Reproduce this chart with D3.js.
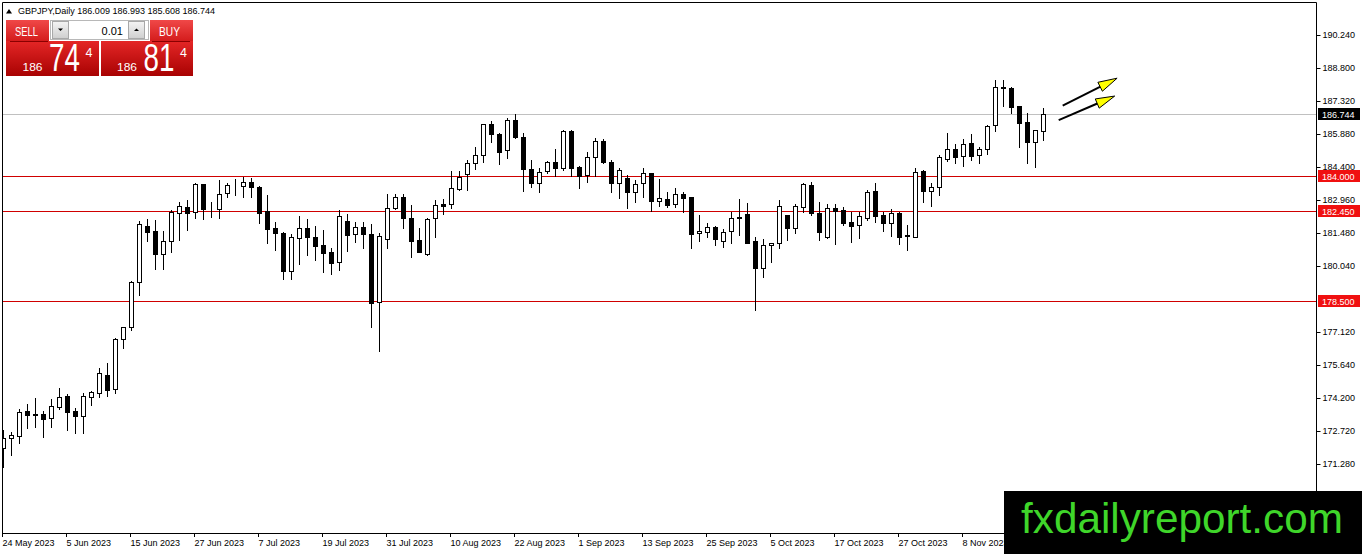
<!DOCTYPE html>
<html>
<head>
<meta charset="utf-8">
<script src="https://cdn.jsdelivr.net/npm/d3@7"></script>
<style>
  body { margin: 0; background: #fff; }
  svg { display: block; font-family: "Liberation Sans", Arial, sans-serif; }
</style>
</head>
<body>
<svg id="chart" width="1362" height="554"></svg>
<script>
// GBPJPY daily bars, 24 May 2023 .. 22 Nov 2023
var opens = [
  171.97, 172.42, 172.53, 173.64, 173.46, 173.48, 173.30, 173.79, 174.28, 173.64,
  173.41, 174.25, 174.43, 175.21, 174.58, 176.79, 177.32, 179.34, 181.80, 181.58,
  180.55, 181.14, 182.36, 182.62, 182.40, 183.64, 182.54, 182.54, 183.24, 183.60,
  183.58, 183.73, 183.54, 182.46, 181.70, 181.49, 179.82, 181.25, 181.70, 181.30,
  180.96, 180.65, 180.19, 182.02, 181.43, 181.74, 181.43, 178.43, 181.21, 182.58,
  183.09, 182.14, 181.18, 180.55, 182.14, 182.78, 182.76, 183.43, 184.08, 184.57,
  184.94, 186.31, 185.85, 185.16, 186.48, 185.72, 184.32, 183.69, 184.23, 184.61,
  184.37, 186.00, 184.39, 184.05, 184.86, 185.55, 184.61, 183.69, 183.91, 183.31,
  183.69, 184.13, 182.92, 182.99, 182.76, 183.21, 183.08, 181.48, 181.55, 181.74,
  181.15, 181.58, 182.21, 182.33, 181.14, 179.93, 180.95, 181.03, 182.28, 181.70,
  182.65, 183.61, 182.39, 181.33, 182.58, 182.51, 181.96, 181.83, 182.17, 183.35,
  182.28, 181.92, 182.36, 181.38, 181.33, 184.23, 183.36, 183.51, 184.75, 185.19,
  184.89, 185.45, 184.92, 185.19, 186.25, 187.94, 187.88, 187.10, 186.38, 185.50,
  186.009
];
var highs = [
  172.78, 172.71, 173.70, 173.92, 174.21, 173.64, 174.14, 174.63, 174.36, 173.76,
  174.40, 174.52, 175.52, 175.76, 176.83, 177.35, 179.37, 182.03, 182.09, 182.06,
  181.58, 182.51, 182.87, 182.95, 183.71, 183.65, 182.85, 183.83, 183.71, 183.86,
  183.96, 183.92, 183.57, 183.17, 181.99, 181.55, 181.43, 182.24, 182.09, 181.80,
  181.62, 180.81, 182.51, 182.33, 181.96, 181.96, 181.89, 181.48, 183.20, 183.20,
  183.20, 182.73, 181.70, 182.14, 182.95, 182.98, 184.23, 184.23, 184.72, 185.28,
  186.31, 186.45, 185.90, 186.58, 186.73, 185.90, 184.72, 184.37, 184.67, 185.20,
  186.04, 186.02, 184.46, 185.08, 185.70, 185.64, 184.72, 184.37, 184.05, 183.83,
  184.37, 184.15, 183.88, 183.31, 183.46, 183.29, 183.09, 182.28, 181.92, 181.80,
  181.65, 182.43, 182.99, 182.80, 181.33, 181.21, 181.06, 182.95, 182.30, 182.76,
  183.69, 183.76, 182.87, 182.76, 182.76, 182.65, 182.43, 182.43, 183.39, 183.69,
  182.43, 182.54, 182.43, 181.84, 184.35, 184.27, 183.69, 184.94, 185.90, 185.42,
  185.63, 185.85, 185.30, 186.26, 188.25, 188.25, 187.95, 187.12, 186.78, 186.04,
  186.993
];
var lows = [
  171.16, 171.68, 172.19, 172.88, 172.93, 172.49, 172.93, 173.70, 172.78, 172.64,
  172.64, 173.87, 174.25, 174.28, 174.40, 176.39, 177.20, 178.75, 181.15, 179.88,
  179.88, 180.66, 181.18, 181.62, 182.17, 182.09, 182.18, 182.14, 183.07, 183.17,
  183.09, 183.09, 181.94, 181.06, 180.74, 179.44, 179.44, 180.12, 180.52, 180.30,
  179.78, 179.68, 179.85, 180.71, 181.10, 180.84, 177.35, 176.27, 180.81, 182.55,
  181.70, 180.41, 180.64, 180.53, 181.33, 182.32, 182.61, 183.40, 183.39, 184.30,
  184.64, 185.52, 184.53, 184.79, 185.70, 183.35, 183.54, 183.31, 184.13, 184.01,
  184.27, 184.01, 183.49, 183.76, 184.01, 184.58, 183.31, 183.02, 182.61, 182.87,
  183.09, 182.46, 182.70, 182.65, 182.65, 182.40, 180.81, 181.15, 181.33, 180.96,
  180.86, 181.03, 181.40, 181.04, 178.09, 179.53, 180.22, 180.81, 181.18, 181.50,
  182.43, 182.28, 181.18, 181.25, 181.00, 181.84, 181.10, 181.25, 182.06, 181.99,
  181.59, 181.37, 181.00, 180.74, 181.30, 182.87, 182.70, 183.17, 184.68, 184.60,
  184.46, 184.72, 184.60, 184.97, 186.01, 187.10, 186.78, 185.28, 184.57, 184.42,
  185.608
];
var closes = [
  172.42, 172.56, 173.57, 173.45, 173.48, 173.28, 173.83, 174.23, 173.59, 173.41,
  174.28, 174.46, 175.31, 174.55, 176.79, 177.32, 179.31, 181.87, 181.55, 180.55,
  181.14, 182.40, 182.68, 182.36, 183.64, 182.54, 182.56, 183.20, 183.61, 183.62,
  183.73, 183.51, 182.39, 181.67, 181.48, 179.82, 181.30, 181.70, 181.30, 180.93,
  180.62, 180.18, 182.24, 181.40, 181.77, 181.43, 178.38, 181.36, 182.58, 183.07,
  182.14, 181.15, 180.66, 182.09, 182.73, 182.70, 183.46, 183.98, 184.57, 184.94,
  186.29, 185.85, 185.08, 186.48, 185.72, 184.30, 183.69, 184.17, 184.61, 184.37,
  186.00, 184.37, 184.01, 184.86, 185.55, 184.61, 183.69, 184.27, 183.31, 183.65,
  184.13, 182.90, 183.02, 182.73, 183.20, 183.05, 181.43, 181.58, 181.74, 181.21,
  181.55, 182.14, 182.14, 181.06, 179.93, 180.96, 181.03, 182.68, 181.70, 182.68,
  183.65, 182.36, 181.55, 182.58, 182.47, 181.94, 181.80, 182.24, 183.31, 182.25,
  181.92, 182.36, 181.33, 181.35, 184.20, 183.36, 183.51, 184.83, 185.19, 184.86,
  185.41, 184.89, 185.19, 186.23, 187.93, 187.90, 187.04, 186.36, 185.50, 186.03,
  186.744
];

var firstDay = '2023-05-24';
var xTickLabels = ['24 May 2023', '5 Jun 2023', '15 Jun 2023', '27 Jun 2023', '7 Jul 2023',
  '19 Jul 2023', '31 Jul 2023', '10 Aug 2023', '22 Aug 2023', '1 Sep 2023', '13 Sep 2023',
  '25 Sep 2023', '5 Oct 2023', '17 Oct 2023', '27 Oct 2023', '8 Nov 2023'];
var yTickValues = [190.240, 188.800, 187.320, 185.880, 184.400, 182.960, 181.480, 180.040,
  177.120, 175.640, 174.200, 172.720, 171.280];
var levels = [184.000, 182.450, 178.500];
var lastPrice = 186.744;
var bid = { big: '186', pips: '74', frac: '4' };
var ask = { big: '186', pips: '81', frac: '4' };
var lotSize = '0.01';
// hand-drawn arrows, in bar index / price units
var arrows = [
  { i0: 132.4, p0: 187.115, i1: 139.2, p1: 188.33 },
  { i0: 131.9, p0: 186.48, i1: 138.9, p1: 187.54 }
];

var svg = d3.select('#chart');
var plotL = 3, plotR = 1316, plotT = 3, plotB = 533;
var n = opens.length;

// weekday bars only
var parseDay = d3.timeParse('%Y-%m-%d');
var days = [];
var d0 = parseDay(firstDay);
while (days.length < n) {
  if (d0.getDay() !== 0 && d0.getDay() !== 6) days.push(d0);
  d0 = d3.timeDay.offset(d0, 1);
}
var fmtDay = d3.timeFormat('%-d %b %Y');

var x = d3.scaleBand().domain(d3.range(n)).range([-0.5, -0.5 + 8 * n]);
var cx = function (i) { return x(i) + x.step() / 2; };
var xi = d3.scaleLinear().domain([0, 1]).range([cx(0), cx(1)]);
var y = d3.scaleLinear().domain([168.226, 191.654]).range([plotB, plotT]);
var py = function (p) { return Math.round(y(p)) + 0.5; };

var defs = svg.append('defs');
defs.append('clipPath').attr('id', 'plot')
  .append('rect').attr('x', plotL).attr('y', plotT)
  .attr('width', plotR - plotL).attr('height', plotB - plotT);

function grad(id, c1, c2) {
  var lg = defs.append('linearGradient').attr('id', id)
    .attr('x1', 0).attr('y1', 0).attr('x2', 0).attr('y2', 1);
  lg.append('stop').attr('offset', '0%').attr('stop-color', c1);
  lg.append('stop').attr('offset', '100%').attr('stop-color', c2);
}
grad('tabGrad', '#f04848', '#d41c1c');
grad('boxGrad', '#e42626', '#a80202');
grad('spinGrad', '#f4f4f4', '#cfcfcf');

// level lines
var plot = svg.append('g').attr('clip-path', 'url(#plot)');
plot.append('line')
  .attr('x1', plotL).attr('x2', plotR)
  .attr('y1', py(lastPrice)).attr('y2', py(lastPrice))
  .attr('stroke', '#c0c0c0');
plot.selectAll('line.level').data(levels).join('line')
  .attr('class', 'level')
  .attr('x1', plotL).attr('x2', plotR)
  .attr('y1', py).attr('y2', py)
  .attr('stroke', '#d00000');

// candles
var candles = d3.range(n).map(function (i) {
  return { i: i, o: opens[i], h: highs[i], l: lows[i], c: closes[i] };
});
plot.selectAll('line.wick').data(candles).join('line')
  .attr('class', 'wick')
  .attr('x1', function (d) { return cx(d.i); })
  .attr('x2', function (d) { return cx(d.i); })
  .attr('y1', function (d) { return Math.round(y(d.h)); })
  .attr('y2', function (d) { return Math.round(y(d.l)) + 1; })
  .attr('stroke', '#000');
plot.selectAll('rect.body').data(candles).join('rect')
  .attr('class', 'body')
  .attr('x', function (d) { return cx(d.i) - 2; })
  .attr('width', 4)
  .attr('y', function (d) { return py(Math.max(d.o, d.c)); })
  .attr('height', function (d) { return Math.round(y(Math.min(d.o, d.c))) - Math.round(y(Math.max(d.o, d.c))); })
  .attr('fill', function (d) { return d.c >= d.o ? '#fff' : '#000'; })
  .attr('stroke', '#000');

// frame
var frame = svg.append('g').attr('stroke', '#000');
frame.append('line').attr('x1', 2.5).attr('x2', 2.5).attr('y1', 2.5).attr('y2', plotB + 0.5);
frame.append('line').attr('x1', 2.5).attr('x2', plotR + 0.5).attr('y1', 2.5).attr('y2', 2.5);
frame.append('line').attr('x1', plotR + 0.5).attr('x2', plotR + 0.5).attr('y1', 2.5).attr('y2', plotB + 0.5);
frame.append('line').attr('x1', 2.5).attr('x2', plotR + 0.5).attr('y1', plotB + 0.5).attr('y2', plotB + 0.5);

// price axis
var yAxis = svg.append('g')
  .attr('transform', 'translate(' + (plotR + 0.5) + ',0)')
  .call(d3.axisRight(y).tickValues(yTickValues).tickFormat(d3.format('.3f')).tickSize(4).tickPadding(2));
yAxis.select('.domain').remove();
yAxis.selectAll('.tick line').attr('transform', 'translate(0,0.5)');
yAxis.selectAll('text').attr('font-family', '"Liberation Sans", Arial, sans-serif')
  .attr('font-size', 9).attr('fill', '#000');
yAxis.selectAll('.tick').attr('transform', function (d) { return 'translate(0,' + Math.round(y(d)) + ')'; });

// price tags
var tags = levels.map(function (v) { return { v: v, bg: '#f01010' }; })
  .concat([{ v: lastPrice, bg: '#000' }]);
var tag = svg.selectAll('g.tag').data(tags).join('g').attr('class', 'tag')
  .attr('transform', function (d) { return 'translate(1318,' + Math.round(y(d.v)) + ')'; });
tag.append('rect').attr('x', 0).attr('y', -6).attr('width', 42).attr('height', 12)
  .attr('fill', function (d) { return d.bg; });
tag.append('text').attr('x', 4).attr('y', 3.5).attr('font-size', 9).attr('fill', '#fff')
  .text(function (d) { return d3.format('.3f')(d.v); });

// time axis
var xTicks = d3.range(n).filter(function (i) { return xTickLabels.indexOf(fmtDay(days[i])) >= 0; });
var xt = svg.selectAll('g.xtick').data(xTicks).join('g').attr('class', 'xtick')
  .attr('transform', function (i) { return 'translate(' + cx(i) + ',0)'; });
xt.append('line').attr('x1', -1).attr('x2', -1).attr('y1', plotB).attr('y2', plotB + 4).attr('stroke', '#000');
xt.append('text').attr('x', -1).attr('y', 546).attr('font-size', 9).attr('fill', '#000')
  .text(function (i) { return fmtDay(days[i]); });

// title
svg.append('path').attr('d', 'M6,13.5 L12,13.5 L9,9 Z').attr('fill', '#000');
svg.append('text').attr('x', 18).attr('y', 14).attr('font-size', 9).attr('fill', '#000')
  .text('GBPJPY,Daily ' + [opens[n - 1], highs[n - 1], lows[n - 1], closes[n - 1]].map(d3.format('.3f')).join(' '));

// arrows
var ag = svg.append('g');
arrows.forEach(function (a) {
  var x0 = xi(a.i0), y0 = y(a.p0), x1 = xi(a.i1), y1 = y(a.p1);
  var dx = x1 - x0, dy = y1 - y0, len = Math.sqrt(dx * dx + dy * dy);
  var ux = dx / len, uy = dy / len, hl = 19, hw = 5;
  var bx = x1 - ux * hl, by = y1 - uy * hl;
  ag.append('line').attr('x1', x0).attr('y1', y0).attr('x2', bx + ux * 2).attr('y2', by + uy * 2)
    .attr('stroke', '#000').attr('stroke-width', 2);
  ag.append('path')
    .attr('d', 'M' + x1 + ',' + y1 + ' L' + (bx - uy * hw) + ',' + (by + ux * hw) +
      ' L' + (bx + uy * hw) + ',' + (by - ux * hw) + ' Z')
    .attr('fill', '#ffff00').attr('stroke', '#000').attr('stroke-width', 1);
});

// one-click trading panel
var panel = svg.append('g');
panel.append('rect').attr('x', 6).attr('y', 20).attr('width', 43).attr('height', 21).attr('fill', 'url(#tabGrad)');
panel.append('rect').attr('x', 150).attr('y', 20).attr('width', 43).attr('height', 21).attr('fill', 'url(#tabGrad)');
panel.append('rect').attr('x', 6).attr('y', 41).attr('width', 93).attr('height', 35).attr('fill', 'url(#boxGrad)');
panel.append('rect').attr('x', 101).attr('y', 41).attr('width', 92).attr('height', 35).attr('fill', 'url(#boxGrad)');
panel.append('line').attr('x1', 10).attr('x2', 48).attr('y1', 41.5).attr('y2', 41.5).attr('stroke', '#8a0000');
panel.append('line').attr('x1', 152).attr('x2', 190).attr('y1', 41.5).attr('y2', 41.5).attr('stroke', '#8a0000');
panel.append('rect').attr('x', 50.5).attr('y', 20.5).attr('width', 98).attr('height', 19)
  .attr('fill', '#fff').attr('stroke', '#b8b8b8');
panel.append('rect').attr('x', 52.5).attr('y', 21.5).attr('width', 16).attr('height', 17)
  .attr('fill', 'url(#spinGrad)').attr('stroke', '#a8a8a8');
panel.append('rect').attr('x', 128.5).attr('y', 21.5).attr('width', 16).attr('height', 17)
  .attr('fill', 'url(#spinGrad)').attr('stroke', '#a8a8a8');
panel.append('path').attr('d', 'M58,28.5 L63,28.5 L60.5,31 Z').attr('fill', '#000');
panel.append('path').attr('d', 'M134,31 L139,31 L136.5,28.5 Z').attr('fill', '#000');
panel.append('text').attr('x', 123).attr('y', 35).attr('text-anchor', 'end')
  .attr('font-size', 11).attr('fill', '#000').text(lotSize);
panel.append('text').attr('x', 15).attr('y', 36).attr('font-size', 12).attr('fill', '#fff')
  .attr('textLength', 23).attr('lengthAdjust', 'spacingAndGlyphs').text('SELL');
panel.append('text').attr('x', 159).attr('y', 36).attr('font-size', 12).attr('fill', '#fff')
  .attr('textLength', 21).attr('lengthAdjust', 'spacingAndGlyphs').text('BUY');

function quote(q, x0) {
  panel.append('text').attr('x', x0).attr('y', 70.5).attr('font-size', 11.5).attr('fill', '#fff')
    .attr('textLength', 20).attr('lengthAdjust', 'spacingAndGlyphs').text(q.big);
  // narrow big digits: scale horizontally rather than stretch the box
  panel.append('text')
    .attr('transform', 'translate(' + (x0 + 26.5) + ',70.5) scale(0.73,1)')
    .attr('font-size', 38).attr('fill', '#fff').text(q.pips);
  panel.append('text').attr('x', x0 + 63).attr('y', 57).attr('font-size', 12.5).attr('fill', '#fff')
    .text(q.frac);
}
quote(bid, 22.5);
quote(ask, 117);

// watermark
svg.append('rect').attr('x', 1004).attr('y', 491).attr('width', 358).attr('height', 63).attr('fill', '#000');
svg.append('text').attr('x', 1021).attr('y', 533).attr('font-size', 42).attr('fill', '#3fd62a')
  .attr('textLength', 322).attr('lengthAdjust', 'spacingAndGlyphs').text('fxdailyreport.com');
</script>
</body>
</html>
